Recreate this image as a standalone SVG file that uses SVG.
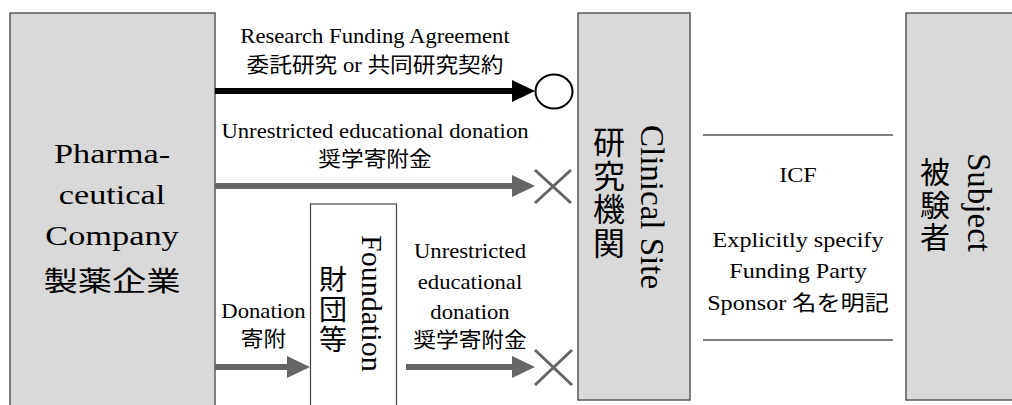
<svg xmlns="http://www.w3.org/2000/svg" width="1012" height="405" viewBox="0 0 1012 405">
  <style>
    .t { font-family: "Liberation Serif", "Noto Sans CJK JP", serif; fill: #000; }
    .box { fill: #d9d9d9; stroke: #595959; stroke-width: 1.5; }
    .wbox { fill: #fff; stroke: #444; stroke-width: 1.2; }
    .blk { stroke: #000; stroke-width: 6; fill: none; }
    .gry { stroke: #666; stroke-width: 6; fill: none; }
    .x { stroke: #666; stroke-width: 3; fill: none; }
    .rule { stroke: #000; stroke-width: 1; }
  </style>
  <defs>
    <marker id="ahB" markerUnits="userSpaceOnUse" markerWidth="23" markerHeight="22" refX="3" refY="11" orient="auto">
      <path d="M0,0 L23,11 L0,22 z" fill="#000"/>
    </marker>
    <marker id="ahG" markerUnits="userSpaceOnUse" markerWidth="23" markerHeight="22" refX="3" refY="11" orient="auto">
      <path d="M0,0 L23,11 L0,22 z" fill="#666"/>
    </marker>
  </defs>
  <rect width="1012" height="405" fill="#fff"/>

  <g id="pharma">
    <rect class="box" x="10" y="13" width="205" height="400"/>
    <g font-family="Liberation Serif, Noto Sans CJK JP, serif" font-size="27" text-anchor="middle" transform="translate(112,0) scale(1.27,1)">
      <text class="t" x="0" y="163">Pharma-</text>
      <text class="t" x="0" y="204">ceutical</text>
      <text class="t" x="0" y="245">Company</text>
      <text class="t" x="0" y="291">製薬企業</text>
    </g>
  </g>

  <g id="foundation">
    <rect class="wbox" x="310.5" y="204" width="86" height="210"/>
    <text class="t" font-size="30" transform="translate(362,235) rotate(90)">Foundation</text>
    <g font-size="28" text-anchor="middle">
      <text class="t" x="333" y="290">財</text>
      <text class="t" x="333" y="320">団</text>
      <text class="t" x="333" y="350">等</text>
    </g>
  </g>

  <g id="clinical-site">
    <rect class="box" x="578" y="13" width="112" height="387"/>
    <text class="t" font-size="33" transform="translate(641,125) rotate(90)">Clinical Site</text>
    <g font-size="32" text-anchor="middle">
      <text class="t" x="609" y="154">研</text>
      <text class="t" x="609" y="188">究</text>
      <text class="t" x="609" y="221">機</text>
      <text class="t" x="609" y="255">関</text>
    </g>
  </g>

  <g id="subject">
    <rect class="box" x="906" y="13" width="120" height="387"/>
    <text class="t" font-size="33" transform="translate(968,153) rotate(90)">Subject</text>
    <g font-size="30" text-anchor="middle">
      <text class="t" x="935" y="183">被</text>
      <text class="t" x="935" y="216">験</text>
      <text class="t" x="935" y="248">者</text>
    </g>
  </g>

  <g id="connectors">
    <line class="blk" x1="215" y1="91" x2="515" y2="91" marker-end="url(#ahB)"/>
    <ellipse cx="554" cy="91.5" rx="18.5" ry="17" fill="#fff" stroke="#000" stroke-width="2"/>
    <line class="gry" x1="215" y1="186" x2="515" y2="186" marker-end="url(#ahG)"/>
    <path class="x" d="M535,170 L571,203 M571,170 L535,203"/>
    <line class="gry" x1="215" y1="367" x2="290" y2="367" marker-end="url(#ahG)"/>
    <line class="gry" x1="406" y1="367" x2="515" y2="367" marker-end="url(#ahG)"/>
    <path class="x" d="M535,350 L572,385 M572,350 L535,385"/>
  </g>

  <g id="connector-labels">
    <g font-size="21" text-anchor="middle" transform="translate(375,0) scale(1.08,1)">
      <text class="t" x="0" y="43">Research Funding Agreement</text>
      <text class="t" x="0" y="72">委託研究 or 共同研究契約</text>
      <text class="t" x="0" y="138">Unrestricted educational donation</text>
      <text class="t" x="0" y="166">奨学寄附金</text>
    </g>
    <g font-size="21" text-anchor="middle" transform="translate(263.5,0) scale(1.08,1)">
      <text class="t" x="0" y="318">Donation</text>
      <text class="t" x="0" y="346">寄附</text>
    </g>
    <g font-size="21" text-anchor="middle" transform="translate(470,0) scale(1.08,1)">
      <text class="t" x="0" y="258">Unrestricted</text>
      <text class="t" x="0" y="289">educational</text>
      <text class="t" x="0" y="319">donation</text>
      <text class="t" x="0" y="347">奨学寄附金</text>
    </g>
  </g>

  <g id="icf">
    <line class="rule" x1="703" y1="135" x2="893" y2="135"/>
    <line class="rule" x1="703" y1="340" x2="893" y2="340"/>
    <g font-size="21" text-anchor="middle" transform="translate(798,0) scale(1.15,1)">
      <text class="t" x="0" y="182">ICF</text>
      <text class="t" x="0" y="247">Explicitly specify</text>
      <text class="t" x="0" y="278">Funding Party</text>
      <text class="t" x="0" y="310">Sponsor 名を明記</text>
    </g>
  </g>
</svg>
